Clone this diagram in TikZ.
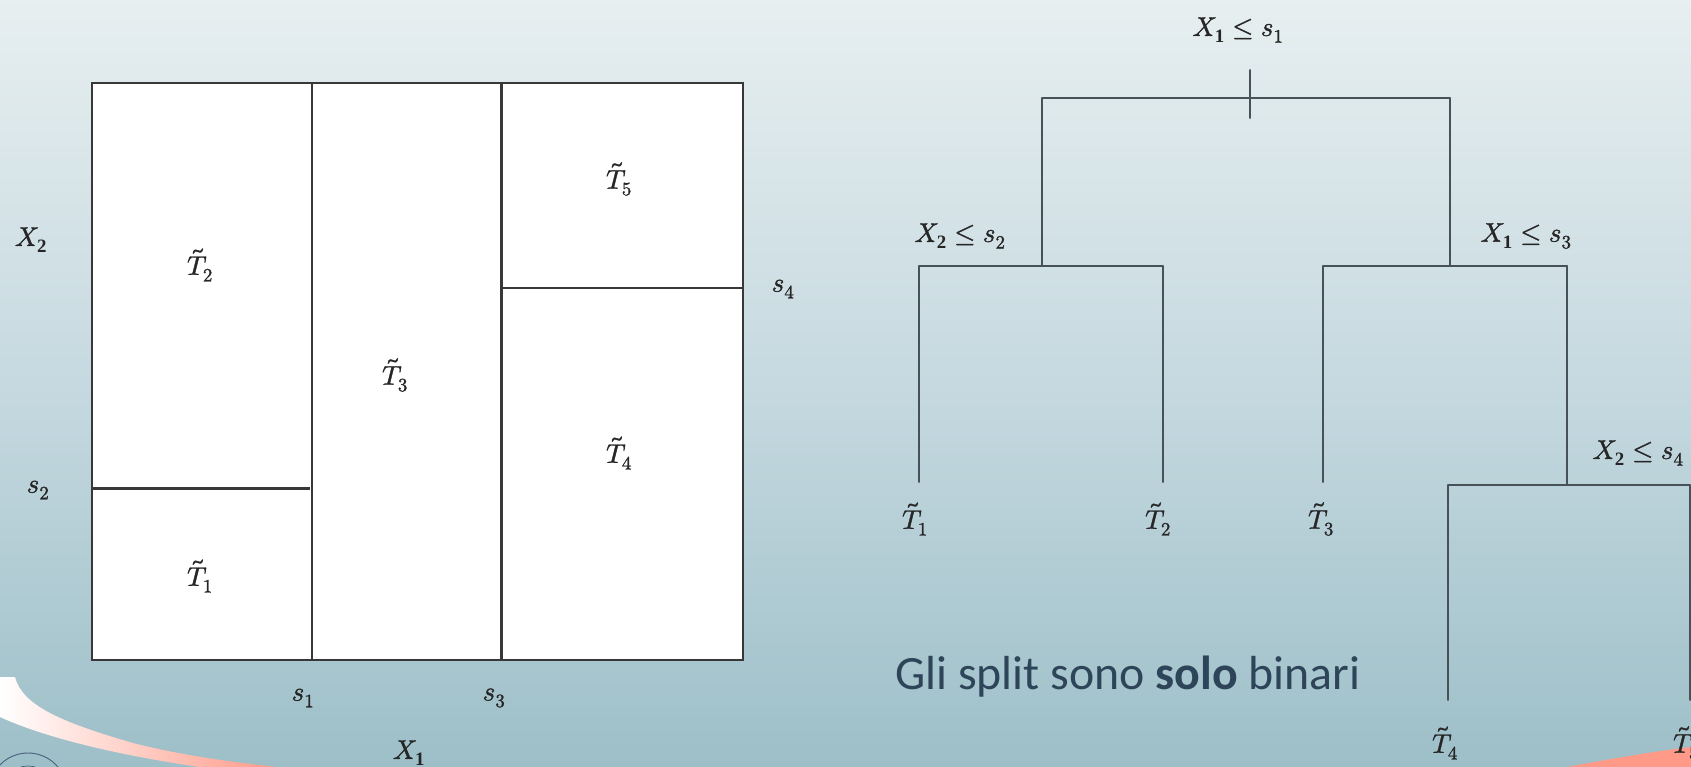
\documentclass[tikz,border=0pt]{standalone}
\usepackage{fontspec}
\usepackage{unicode-math}
\usetikzlibrary{decorations.text}
\setmainfont{Liberation Serif}
\setmathfont[FakeBold=1.3]{Latin Modern Math}
\newfontfamily\carl{Carlito}
\definecolor{linec}{HTML}{465257}
\definecolor{txtblue}{HTML}{2E4559}
\definecolor{bgtop}{HTML}{E7EFF0}
\definecolor{bgmid}{HTML}{C6D9E0}
\definecolor{bgbot}{HTML}{9DBFC8}
\definecolor{salmon}{HTML}{FF9A88}
\definecolor{sealc}{HTML}{47607F}
\tikzset{x=1pt,y=-1pt,
 edge/.style={draw=linec,line width=2.7pt,line cap=round},
 boxline/.style={draw=black!78,line width=2.3pt},
 lab/.style={inner sep=0pt,font=\fontsize{27}{30}\selectfont,text=black!85},
 leaf/.style={inner sep=0pt,font=\fontsize{27}{30}\selectfont,text=black!85},
 jn/.style={inner sep=0pt,minimum size=0pt}}
\newcommand{\Tl}[1]{$\tilde{T}_{#1}$}
\newcommand{\Xs}[2]{$X_{\mathbf{#1}}\leq s_{#2}$}
\begin{document}
\begin{tikzpicture}
\useasboundingbox (0,0) rectangle (1691,767);
\clip (0,0) rectangle (1691,767);
\shade[top color=bgtop,bottom color=bgbot,middle color=bgmid] (0,0) rectangle (1691,767);
% swooshes
\shade[left color=white,right color=salmon]
  (0,677) -- (15,677) .. controls (22,705) and (60,722) .. (133,743)
  .. controls (180,755) and (230,762) .. (277,767) -- (200,767)
  .. controls (130,757) and (50,740) .. (0,717) -- cycle;
\fill[salmon] (1691,747) .. controls (1650,752) and (1610,759) .. (1567,767) -- (1691,767) -- cycle;
% seal
\draw[sealc,line width=.9pt] (28,792) circle (39);
\draw[sealc,line width=.7pt] (28,792) circle (26);
\path[postaction={decorate},decoration={text along path,text={|\fontsize{8}{9}\selectfont\color{sealc}|STUDIOR},text align=center}]
  (-3,792) arc[start angle=180,end angle=0,radius=31];
% partition
\node[jn] (nw) at (92,83) {}; \node[jn] (se) at (743,660) {};
\fill[white] (92,83) rectangle (743,660);
\draw[boxline] (nw) rectangle (se);
\node[jn] (a1) at (312,83) {}; \node[jn] (a2) at (312,660) {};
\node[jn] (b1) at (501.5,83) {}; \node[jn] (b2) at (501.5,660) {};
\node[jn] (c1) at (501.5,288) {}; \node[jn] (c2) at (743,288) {};
\node[jn] (d1) at (92,488.5) {}; \node[jn] (d2) at (310,488.5) {};
\draw[boxline] (a1)--(a2); \draw[boxline] (b1)--(b2); \draw[boxline] (c1)--(c2); \draw[boxline] (d1)--(d2);
\node[leaf] (r2) at (200,265) {\Tl{2}};
\node[leaf] (r1) at (200,576) {\Tl{1}};
\node[leaf] (r3) at (395,375) {\Tl{3}};
\node[leaf] (r5) at (619,179) {\Tl{5}};
\node[leaf] (r4) at (619,453) {\Tl{4}};
\node[lab] (lx2) at (31,240) {$X_{\mathbf{2}}$};
\node[lab] (ls2) at (38,490) {$s_2$};
\node[lab] (ls4) at (783,289) {$s_4$};
\node[lab] (ls1) at (303,698) {$s_1$};
\node[lab] (ls3) at (494,698) {$s_3$};
\node[lab] (lx1) at (409,753) {$X_{\mathbf{1}}$};
% tree
\node[jn] (top) at (1250,70) {}; \node[jn] (topb) at (1250,118) {};
\node[jn] (n0l) at (1042,98) {}; \node[jn] (n0r) at (1450,98) {};
\node[jn] (n1) at (1042,266) {}; \node[jn] (n2) at (1450,266) {};
\node[jn] (n1l) at (919,266) {}; \node[jn] (n1r) at (1163,266) {};
\node[jn] (n2l) at (1323,266) {}; \node[jn] (n2r) at (1567,266) {};
\node[jn] (n3) at (1567,485) {};
\node[jn] (n3l) at (1448,485) {}; \node[jn] (n3r) at (1690,485) {};
\node[jn] (e1) at (919,482) {}; \node[jn] (e2) at (1163,482) {}; \node[jn] (e3) at (1323,482) {};
\node[jn] (e4) at (1448,700) {}; \node[jn] (e5) at (1690,700) {};
\draw[edge] (top)--(topb);
\draw[edge] (n1)--(n0l)--(n0r)--(n2);
\draw[edge] (e1)--(n1l)--(n1r)--(e2);
\draw[edge] (e3)--(n2l)--(n2r)--(n3);
\draw[edge] (e4)--(n3l)--(n3r)--(e5);
\node[lab] (q1) at (1238,30) {\Xs{1}{1}};
\node[lab] (q2) at (960,236) {\Xs{2}{2}};
\node[lab] (q3) at (1526,236) {\Xs{1}{3}};
\node[lab] (q4) at (1638,453) {\Xs{2}{4}};
\node[leaf] (t1) at (915,519) {\Tl{1}};
\node[leaf] (t2) at (1158,519) {\Tl{2}};
\node[leaf] (t3) at (1321,519) {\Tl{3}};
\node[leaf] (t4) at (1445,743) {\Tl{4}};
\node[leaf,anchor=west] (t5) at (1673,743) {\Tl{5}};
\node[anchor=west,inner sep=0pt,text=txtblue,font=\carl\fontsize{47.8}{52}\selectfont] (cap) at (895,677) {Gli split sono \textbf{solo} binari};
\end{tikzpicture}
\end{document}
